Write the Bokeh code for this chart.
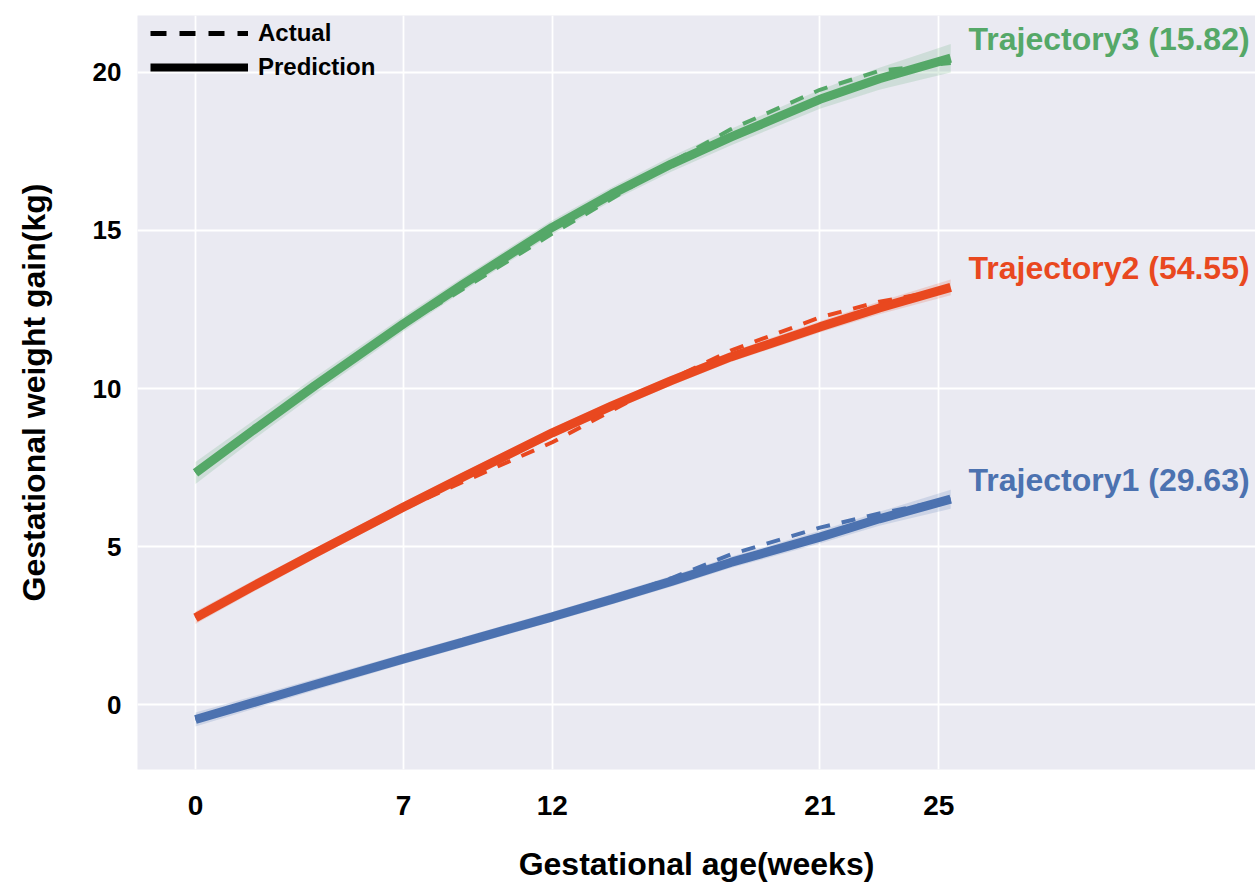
from bokeh.plotting import figure
from bokeh.models import FixedTicker, Legend, LegendItem, ColumnDataSource
from bokeh.core.properties import value
from bokeh.embed import file_html
from bokeh.resources import INLINE

# ---------------- data ----------------
weeks = [0, 2, 4, 7, 9, 12, 14, 16, 18, 21, 23, 25.4]

t1_pred = [-0.47, 0.08, 0.63, 1.45, 1.98, 2.78, 3.33, 3.90, 4.50, 5.30, 5.88, 6.50]
t1_act = [-0.47, 0.08, 0.63, 1.45, 1.95, 2.72, 3.35, 4.00, 4.75, 5.60, 6.05, 6.50]
t1_ci = [0.22, 0.20, 0.18, 0.16, 0.16, 0.16, 0.16, 0.17, 0.18, 0.20, 0.22, 0.30]

t2_pred = [2.75, 3.78, 4.78, 6.25, 7.20, 8.60, 9.45, 10.25, 11.00, 11.95, 12.55, 13.20]
t2_act = [2.75, 3.78, 4.78, 6.20, 7.05, 8.30, 9.30, 10.30, 11.20, 12.25, 12.75, 13.15]
t2_ci = [0.20, 0.18, 0.16, 0.15, 0.15, 0.15, 0.15, 0.15, 0.16, 0.18, 0.20, 0.25]

t3_pred = [7.33, 8.72, 10.08, 12.05, 13.30, 15.10, 16.15, 17.10, 17.95, 19.15, 19.80, 20.45]
t3_act = [7.33, 8.72, 10.08, 12.00, 13.15, 14.90, 16.00, 17.15, 18.20, 19.45, 20.05, 20.30]
t3_ci = [0.35, 0.30, 0.27, 0.24, 0.22, 0.22, 0.22, 0.24, 0.26, 0.30, 0.35, 0.45]

traj_names = ["Trajectory1 (29.63)", "Trajectory2 (54.55)", "Trajectory3 (15.82)"]
traj_colors = ["#4C72B0", "#E9481F", "#55A868"]

x_ticks = [0, 7, 12, 21, 25]
y_ticks = [0, 5, 10, 15, 20]

x_title = "Gestational age(weeks)"
y_title = "Gestational weight gain(kg)"

# ---------------- figure ----------------
p = figure(width=1255, height=884, x_range=(-1.95, 35.65), y_range=(-2.05, 21.8),
           output_backend="svg", toolbar_location=None,
           min_border_left=137, min_border_right=0, min_border_top=15, min_border_bottom=114)
p.background_fill_color = "#EAEAF2"
p.border_fill_color = "white"
p.outline_line_color = None

p.xgrid.ticker = FixedTicker(ticks=x_ticks)
p.ygrid.ticker = FixedTicker(ticks=y_ticks)
for g in (p.xgrid, p.ygrid):
    g.grid_line_color = "white"
    g.grid_line_width = 1.8

p.xaxis.ticker = FixedTicker(ticks=x_ticks)
p.yaxis.ticker = FixedTicker(ticks=y_ticks)
for ax in (p.xaxis, p.yaxis):
    ax.axis_line_color = None
    ax.major_tick_line_color = None
    ax.minor_tick_line_color = None
    ax.major_tick_out = 0
    ax.major_tick_in = 0
    ax.major_label_text_font = "Liberation Sans"
    ax.major_label_text_font_style = "bold"
    ax.major_label_text_color = "black"
    ax.axis_label_text_font = "Liberation Sans"
    ax.axis_label_text_font_style = "bold"
    ax.axis_label_text_font_size = "32px"
    ax.axis_label_text_color = "black"

p.xaxis.major_label_text_font_size = "28px"
p.xaxis.major_label_standoff = 26
p.yaxis.major_label_text_font_size = "26px"
p.yaxis.major_label_standoff = 16

p.xaxis.axis_label = x_title
p.xaxis.axis_label_standoff = 28
p.yaxis.axis_label = y_title
p.yaxis.axis_label_standoff = 38

series = [
    (t1_pred, t1_act, t1_ci),
    (t2_pred, t2_act, t2_ci),
    (t3_pred, t3_act, t3_ci),
]

for (pred, act, ci), color, name in zip(series, traj_colors, traj_names):
    lower = [a - b for a, b in zip(pred, ci)]
    upper = [a + b for a, b in zip(pred, ci)]
    src = ColumnDataSource(dict(x=weeks, pred=pred, act=act, lo=lower, hi=upper))
    p.varea(x="x", y1="lo", y2="hi", source=src, fill_color=color, fill_alpha=0.18)
    p.line(x="x", y="pred", source=src, line_color=color, line_width=9)
    p.line(x="x", y="act", source=src, line_color=color, line_width=4, line_dash="14 12")
    tsrc = ColumnDataSource(dict(x=[weeks[-1] + 0.6], y=[pred[-1] + 0.62], t=[name]))
    p.text(x="x", y="y", text="t", source=tsrc, text_color=color,
           text_font=value("Liberation Sans"), text_font_style="bold",
           text_font_size="32px", text_baseline="middle", text_align="left")

# legend with black proxy lines (no visible data)
nan = float("nan")
r_act = p.line(x=[weeks[0], weeks[0]], y=[nan, nan], line_color="black",
               line_width=5, line_dash="16 13")
r_pred = p.line(x=[weeks[0], weeks[0]], y=[nan, nan], line_color="black", line_width=8)
legend = Legend(items=[LegendItem(label="Actual", renderers=[r_act]),
                       LegendItem(label="Prediction", renderers=[r_pred])],
                location=(13, 688), margin=0, padding=0, spacing=6,
                glyph_width=98, glyph_height=26, label_height=26,
                label_standoff=10, background_fill_alpha=0, border_line_color=None,
                label_text_font="Liberation Sans", label_text_font_style="bold",
                label_text_font_size="24px", label_text_color="black")
p.add_layout(legend)

open("out.html", "w").write(file_html(p, INLINE))
